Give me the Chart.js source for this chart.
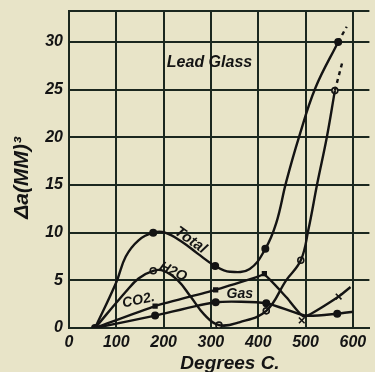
<!DOCTYPE html>
<html>
<head>
<meta charset="utf-8">
<script src="https://cdn.jsdelivr.net/npm/chart.js@4"></script>
<style>
  html, body { margin: 0; padding: 0; background: #e8e4c8; }
  #wrap { width: 375px; height: 372px; }
</style>
</head>
<body>
<div id="wrap"><canvas id="plot" width="375" height="372"></canvas></div>
<script>
// Lead glass: gas given off vs temperature
// traced curve points (hand drawn curves) and the measured points with markers
const totalT = [55, 100, 120, 147, 178, 203, 240, 272, 309, 340, 382, 415, 438, 459, 486, 521, 569];
const totalV = [0, 4.8, 7.5, 9.2, 10.0, 10.0, 9.0, 7.8, 6.5, 5.9, 6.2, 8.3, 11, 15.3, 20, 25.2, 30];
const totalDashT = [569, 587];
const totalDashV = [30, 31.6];
const totalMarkT = [55, 178, 309, 415, 569];
const totalMarkV = [0, 10.0, 6.5, 8.3, 30];

const h2oT = [55, 120, 147, 178, 200, 230, 257, 286, 317, 360, 417, 459, 490, 506, 525, 545, 562];
const h2oV = [0, 3.8, 5.2, 6.0, 6.0, 5.0, 3.3, 1.4, 0.3, 0.6, 1.8, 5.0, 7.1, 10.3, 15.2, 20, 24.9];
const h2oDashT = [562, 579];
const h2oDashV = [24.9, 28.1];
const h2oMarkT = [178, 317, 417, 490, 562];
const h2oMarkV = [6.0, 0.3, 1.8, 7.1, 24.9];

const co2T = [55, 182, 310, 395, 413, 460, 497, 570, 595];
const co2V = [0, 2.3, 4.0, 5.3, 5.6, 3.2, 1.2, 3.3, 4.3];
const co2MarkT = [182, 310, 413];
const co2MarkV = [2.3, 4.0, 5.7];
const co2CrossT = [492, 570];
const co2CrossV = [0.8, 3.3];

const gasT = [55, 182, 310, 417, 500, 567, 600];
const gasV = [0, 1.3, 2.7, 2.6, 1.3, 1.5, 1.7];
const gasMarkT = [182, 310, 417, 567];
const gasMarkV = [1.3, 2.7, 2.6, 1.5];

const xTicks = [0, 100, 200, 300, 400, 500, 600];
const yTicks = [0, 5, 10, 15, 20, 25, 30];

const ink = '#141414';
const gridInk = '#1b271f';
const paper = '#e8e4c8';
const hand = '"Liberation Sans", "DejaVu Sans", sans-serif';

function pts(xs, ys) {
    return xs.map((x, i) => ({ x: x, y: ys[i] }));
}

function curve(xs, ys, dashed, tension) {
    return {
        data: pts(xs, ys),
        borderColor: ink,
        borderWidth: 2.4,
        borderDash: dashed ? [4, 4] : [],
        pointRadius: 0,
        tension: tension,
        fill: false,
    };
}

function marks(xs, ys, style, filled, r) {
    return {
        data: pts(xs, ys),
        showLine: false,
        pointStyle: style,
        pointRadius: r,
        pointBorderWidth: 1.6,
        pointBorderColor: ink,
        pointBackgroundColor: filled ? ink : paper,
    };
}

// text written on the sheet, placed in data units
const notes = [
    { text: 'Lead Glass', x: 297, y: 27.8, rot: 0, size: 16 },
    { text: 'Total', x: 257, y: 9.2, rot: 35, size: 15 },
    { text: 'H2O', x: 220, y: 5.9, rot: 25, size: 14 },
    { text: 'CO2.', x: 147, y: 2.9, rot: -12, size: 14 },
    { text: 'Gas', x: 361, y: 3.5, rot: 0, size: 14 },
];

const paperPlugin = {
    id: 'paper',
    beforeDraw(chart) {
        const ctx = chart.ctx;
        ctx.save();
        ctx.fillStyle = paper;
        ctx.fillRect(0, 0, chart.width, chart.height);
        ctx.restore();
    },
    afterDraw(chart) {
        const ctx = chart.ctx;
        const xs = chart.scales.x, ys = chart.scales.y;
        ctx.save();
        ctx.fillStyle = ink;
        ctx.textAlign = 'center';
        ctx.textBaseline = 'middle';
        notes.forEach(n => {
            ctx.save();
            ctx.translate(xs.getPixelForValue(n.x), ys.getPixelForValue(n.y));
            ctx.rotate(n.rot * Math.PI / 180);
            ctx.font = `italic bold ${n.size}px ${hand}`;
            ctx.fillText(n.text, 0, 0);
            ctx.restore();
        });
        // axis titles
        ctx.font = `italic bold 19px ${hand}`;
        ctx.fillText('Degrees C.', 230, 364);
        ctx.translate(22, 178);
        ctx.rotate(-Math.PI / 2);
        ctx.font = `italic bold 21px ${hand}`;
        ctx.fillText('\u0394a(MM)\u00b3', 0, 0);
        ctx.restore();
    }
};

const ctx = document.getElementById('plot').getContext('2d');
const chart = new Chart(ctx, {
    type: 'line',
    data: {
        datasets: [
            curve(totalT, totalV, false, 0.4),
            curve(totalDashT, totalDashV, true, 0),
            curve(h2oT, h2oV, false, 0.4),
            curve(h2oDashT, h2oDashV, true, 0),
            curve(co2T, co2V, false, 0.15),
            curve(gasT, gasV, false, 0.2),
            marks(totalMarkT, totalMarkV, 'circle', true, 3.2),
            marks(h2oMarkT, h2oMarkV, 'circle', false, 3),
            marks(co2MarkT, co2MarkV, 'rect', true, 2.6),
            marks(co2CrossT, co2CrossV, 'crossRot', false, 4),
            marks(gasMarkT, gasMarkV, 'circle', true, 3.2),
        ],
    },
    options: {
        responsive: false,
        animation: false,
        layout: { padding: { top: 11, right: 0, left: 0, bottom: 0 } },
        plugins: { legend: { display: false }, tooltip: { enabled: false } },
        scales: {
            x: {
                type: 'linear',
                min: 0,
                max: 635,
                afterBuildTicks: (s) => { s.ticks = xTicks.map(v => ({ value: v })); },
                afterFit: (s) => { s.height = 44; s.paddingLeft = 0; s.paddingRight = 0; },
                grid: { color: gridInk, lineWidth: 2, drawTicks: false },
                border: { color: gridInk, width: 2 },
                ticks: {
                    color: ink,
                    padding: 5,
                    maxRotation: 0,
                    font: { family: hand, size: 16, style: 'italic', weight: 'bold' },
                },
            },
            y: {
                min: 0,
                max: 33.25,
                afterBuildTicks: (s) => { s.ticks = yTicks.concat([33.25]).map(v => ({ value: v })); },
                afterFit: (s) => { s.width = 69; s.paddingTop = 0; s.paddingBottom = 0; },
                grid: { color: gridInk, lineWidth: 2, drawTicks: false },
                border: { color: gridInk, width: 2 },
                ticks: {
                    color: ink,
                    padding: 6,
                    callback: (v) => yTicks.includes(v) ? String(v) : '',
                    font: { family: hand, size: 16, style: 'italic', weight: 'bold' },
                },
            },
        },
    },
    plugins: [paperPlugin],
});
</script>
</body>
</html>
